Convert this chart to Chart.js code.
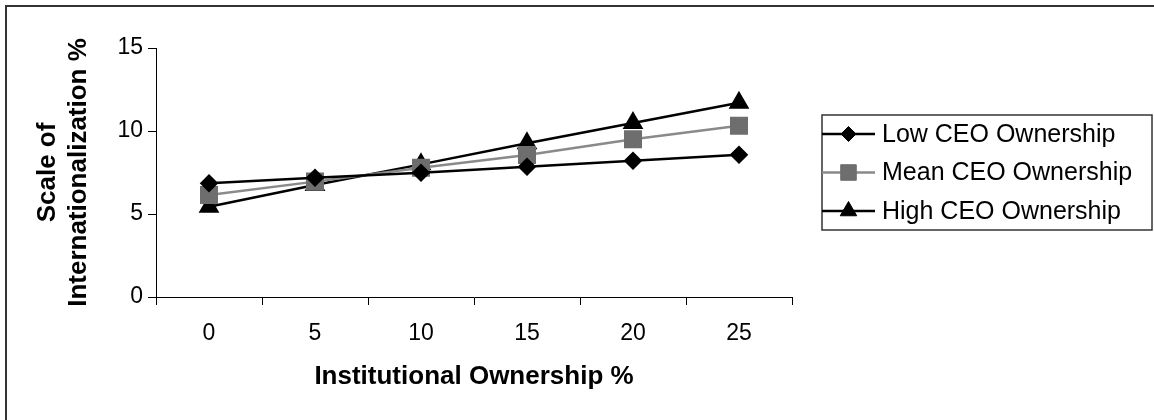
<!DOCTYPE html>
<html lang="en">
<head>
<meta charset="UTF-8">
<title>Scale of Internationalization</title>
<style>
  body { margin: 0; background: #fff; overflow: hidden; }
  #wrap { position: relative; width: 1154px; height: 420px; }
  #frame { position: absolute; left: 5px; top: 5px; width: 1300px; height: 600px;
           border: 2px solid #333; pointer-events: none; }
</style>
</head>
<body>
<div id="wrap">
  <canvas id="chart" width="1154" height="420"></canvas>
  <div id="frame"></div>
</div>

<script src="https://cdn.jsdelivr.net/npm/chart.js"></script>
<script>
// data
const categories = ['0', '5', '10', '15', '20', '25'];
const lowCEO  = [6.85, 7.19, 7.49, 7.85, 8.21, 8.57];
const meanCEO = [6.14, 6.95, 7.79, 8.55, 9.50, 10.32];
const highCEO = [5.44, 6.75, 7.99, 9.26, 10.48, 11.70];
const yTicks = [0, 5, 10, 15];

const FONT = "'Liberation Sans', Arial, sans-serif";

// legend with a frame and line-through-marker samples
const boxLegend = {
    id: 'boxLegend',
    afterDraw(chart) {
        const ctx = chart.ctx;
        const left = chart.chartArea.right + 30, top = 115, w = 330, h = 115;
        ctx.save();
        ctx.lineWidth = 1.5;
        ctx.strokeStyle = '#333';
        ctx.strokeRect(left, top, w, h);
        chart.data.datasets.forEach((ds, i) => {
            const y = top + 19 + i * 38.5;
            ctx.strokeStyle = ds.borderColor;
            ctx.lineWidth = ds.borderWidth;
            ctx.beginPath();
            ctx.moveTo(left, y);
            ctx.lineTo(left + 53, y);
            ctx.stroke();
            ctx.fillStyle = ds.pointBackgroundColor;
            ctx.strokeStyle = ds.pointBorderColor;
            ctx.lineWidth = 1;
            Chart.helpers.drawPoint(ctx, { pointStyle: ds.pointStyle, radius: ds.pointRadius, borderWidth: 1 }, left + 26.5, y);
            ctx.fillStyle = '#000';
            ctx.font = '25px ' + FONT;
            ctx.textBaseline = 'middle';
            ctx.textAlign = 'left';
            ctx.fillText(ds.label, left + 60, y + 1);
        });
        ctx.restore();
    }
};

const ctx = document.getElementById('chart').getContext('2d');
new Chart(ctx, {
    type: 'line',
    data: {
        labels: categories,
        datasets: [
            { label: 'Low CEO Ownership', data: lowCEO, borderColor: '#000', borderWidth: 2.5,
              pointStyle: 'rectRot', pointRadius: 7.5, pointBackgroundColor: '#000', pointBorderColor: '#000' },
            { label: 'Mean CEO Ownership', data: meanCEO, borderColor: '#8a8a8a', borderWidth: 2.5,
              pointStyle: 'rect', pointRadius: 11, pointBackgroundColor: '#6e6e6e', pointBorderColor: '#6e6e6e' },
            { label: 'High CEO Ownership', data: highCEO, borderColor: '#000', borderWidth: 2.5,
              pointStyle: 'triangle', pointRadius: 9.5, pointBackgroundColor: '#000', pointBorderColor: '#000' }
        ]
    },
    options: {
        responsive: false,
        animation: false,
        layout: { padding: { left: 10, top: 48, right: 362, bottom: 10 } },
        plugins: { legend: { display: false }, tooltip: { enabled: false } },
        elements: { line: { tension: 0 } },
        scales: {
            x: {
                offset: true,
                grid: { offset: true, drawOnChartArea: false, tickLength: 8, color: '#000' },
                border: { color: '#000', width: 1 },
                ticks: { color: '#000', font: { family: FONT, size: 23 }, padding: 15, maxRotation: 0 },
                title: { display: true, text: 'Institutional Ownership %', color: '#000',
                         font: { family: FONT, size: 26, weight: 'bold' }, padding: { top: 0, bottom: 18 } },
                afterFit(s) { s.height = 420 - 297 - 10; }
            },
            y: {
                min: 0, max: 15,
                afterBuildTicks(s) { s.ticks = yTicks.map(v => ({ value: v })); },
                grid: { drawOnChartArea: false, tickLength: 8, color: '#000' },
                border: { color: '#000', width: 1 },
                ticks: { color: '#000', font: { family: FONT, size: 23 }, padding: 5 },
                title: { display: true, text: ['Scale of', 'Internationalization %'], color: '#000',
                         font: { family: FONT, size: 26, weight: 'bold' }, lineHeight: 1.1,
                         padding: { top: 22, bottom: 0 } },
                afterFit(s) { s.width = 156 - 10; }
            }
        }
    },
    plugins: [boxLegend]
});
</script>
</body>
</html>
